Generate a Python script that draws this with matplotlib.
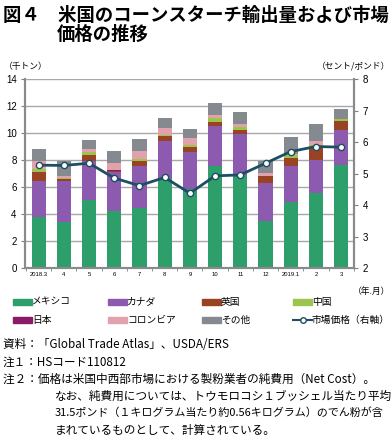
import matplotlib.pyplot as plt
import numpy as np
from matplotlib.patches import Rectangle
from matplotlib.lines import Line2D

JP = ['Noto Sans CJK JP', 'DejaVu Sans']
NUM = ['Liberation Sans', 'DejaVu Sans']

# data (thousand tons, cents/lb)
months = ["2018.3", "4", "5", "6", "7", "8", "9", "10", "11", "12", "2019.1", "2", "3"]
mexico = [3.78, 3.46, 5.06, 4.25, 4.49, 6.60, 5.90, 7.58, 6.91, 3.50, 4.93, 5.60, 7.62]
canada = [2.69, 3.01, 2.84, 2.85, 3.11, 2.80, 2.69, 2.91, 3.02, 2.79, 2.67, 2.42, 2.62]
uk = [0.63, 0.12, 0.50, 0.10, 0.30, 0.35, 0.41, 0.30, 0.29, 0.55, 0.55, 0.91, 0.62]
china = [0.25, 0.07, 0.19, 0.00, 0.17, 0.10, 0.10, 0.30, 0.20, 0.00, 0.24, 0.20, 0.20]
japan = [0.00, 0.00, 0.00, 0.08, 0.00, 0.00, 0.00, 0.00, 0.00, 0.00, 0.00, 0.00, 0.00]
colombia = [0.55, 0.18, 0.25, 0.54, 0.62, 0.55, 0.53, 0.27, 0.27, 0.24, 0.10, 0.30, 0.00]
other = [0.94, 1.11, 0.66, 0.82, 0.89, 0.71, 0.67, 0.86, 0.86, 0.87, 1.21, 1.24, 0.74]
price = [5.27, 5.26, 5.33, 4.86, 4.62, 4.88, 4.38, 4.93, 4.96, 5.33, 5.70, 5.86, 5.84]

series = [
    ("メキシコ", mexico, "#2e9f6b"),
    ("カナダ", canada, "#8c5bb0"),
    ("英国", uk, "#9a4324"),
    ("中国", china, "#9cc54e"),
    ("日本", japan, "#8a1a6a"),
    ("コロンビア", colombia, "#e2a2ad"),
    ("その他", other, "#858a90"),
]
line_color = "#1d4e62"

W, H = 392, 437
fig = plt.figure(figsize=(W / 100, H / 100), dpi=100)
ax = fig.add_axes([25 / W, 1 - 268.3 / H, (354 - 25) / W, (268.3 - 79) / H])

x = np.arange(len(months))
bottom = np.zeros(len(months))
for name, vals, col in series:
    ax.bar(x, vals, width=0.56, bottom=bottom, color=col, zorder=2)
    bottom += np.array(vals)

ax.set_xlim(-0.54, 12.51)
ax.set_ylim(0, 14)
ax.set_yticks(range(0, 15, 2))
ax.grid(axis='y', color='#a8a8a8', linewidth=1, zorder=0)
ax.set_xticks(x)
ax.set_xticklabels(months, fontsize=4.2, family=NUM)
ax.set_xticks(np.arange(-0.5, 12.6, 1), minor=True)
ax.tick_params(axis='x', which='major', length=0, pad=3)
ax.tick_params(axis='x', which='minor', length=2, color='#808080')
ax.tick_params(axis='y', length=3, color='#808080', labelsize=7, pad=3)
for lab in ax.get_yticklabels():
    lab.set_family(NUM)
for s in ['left', 'bottom', 'right']:
    ax.spines[s].set_color('#8a8a8a')
    ax.spines[s].set_linewidth(1.5)
ax.spines['top'].set_visible(False)

ax2 = ax.twinx()
ax2.plot(x, price, color=line_color, linewidth=2, marker='o', markersize=4.5,
         markerfacecolor='white', markeredgecolor=line_color, markeredgewidth=1, zorder=5)
ax2.set_ylim(2, 8)
ax2.set_yticks(range(2, 9))
ax2.tick_params(axis='y', length=3, color='#808080', labelsize=7, pad=3)
for lab in ax2.get_yticklabels():
    lab.set_family(NUM)
for s in ['left', 'bottom', 'right']:
    ax2.spines[s].set_color('#8a8a8a')
    ax2.spines[s].set_linewidth(1.5)
ax2.spines['top'].set_visible(False)


def ftext(px, py, s, **kw):
    fig.text(px / W, 1 - py / H, s, **kw)


# title
ftext(3, 15, "図４　米国のコーンスターチ輸出量および市場", fontsize=13.2,
      fontweight='bold', family=JP, va='center')
ftext(57, 34, "価格の推移", fontsize=13.2, fontweight='bold', family=JP, va='center')

ftext(4, 66, "（千トン）", fontsize=6.3, family=JP, va='center')
ftext(390, 66, "（セント/ポンド）", fontsize=6.3, family=JP, va='center', ha='right')
ftext(390, 291, "（年.月）", fontsize=6.3, family=JP, va='center', ha='right')

# legend
cols_x = [13, 108, 202, 293]
rows_y = [302, 320]
for i, (name, _, col) in enumerate(series):
    cx = cols_x[i % 4]
    cy = rows_y[i // 4]
    fig.add_artist(Rectangle((cx / W, 1 - (cy + 3) / H), 19 / W, 6 / H,
                             transform=fig.transFigure, color=col))
    ftext(cx + 19, cy, name, fontsize=7, family=JP, va='center')
cx, cy = cols_x[3], rows_y[1]
fig.add_artist(Line2D([cx / W, (cx + 19) / W], [1 - cy / H, 1 - cy / H],
                      transform=fig.transFigure, color=line_color, linewidth=1.5))
fig.add_artist(Line2D([(cx + 9.5) / W], [1 - cy / H], transform=fig.transFigure,
                      marker='o', markersize=4, markerfacecolor='white',
                      markeredgecolor=line_color, markeredgewidth=1))
ftext(cx + 19, cy, "市場価格（右軸）", fontsize=7, family=JP, va='center')

# notes
notes = [
    (3, "資料：「Global Trade Atlas」、USDA/ERS", 8.4),
    (3, "注１：HSコード110812", 8.4),
    (3, "注２：価格は米国中西部市場における製粉業者の純費用（Net Cost）。", 8.4),
    (55, "なお、純費用については、トウモロコシ１ブッシェル当たり平均", 8.4),
    (55, "31.5ポンド（１キログラム当たり約0.56キログラム）のでん粉が含", 7.95),
    (55, "まれているものとして、計算されている。", 8.4),
]
for k, (nx, s, fs) in enumerate(notes):
    ftext(nx, 345 + 17 * k, s, fontsize=fs, family=JP, va='center')

fig.savefig("out.png", dpi=100)
